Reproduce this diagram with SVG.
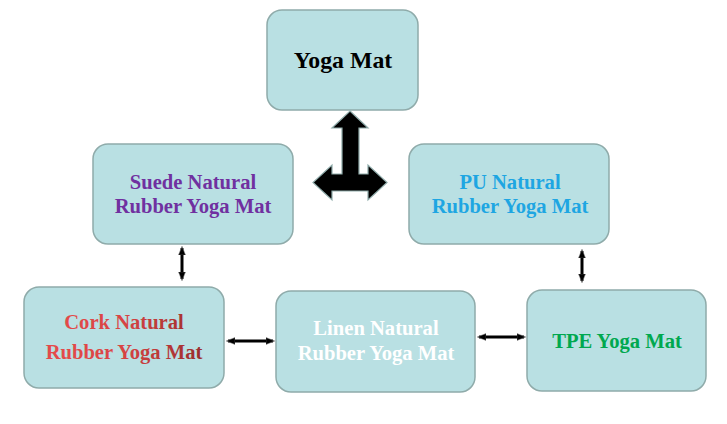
<svg xmlns="http://www.w3.org/2000/svg" width="727" height="424" viewBox="0 0 727 424">
<defs>
<style>
.box{fill:#b9e0e3;stroke:#8fabaa;stroke-width:1.5}
.t{font-family:"Liberation Serif","Times New Roman",serif;font-weight:bold;text-anchor:middle;font-size:20.6px}
.c{stroke:#000;stroke-width:3;fill:none;marker-start:url(#ah);marker-end:url(#ah)}
</style>
<marker id="ah" viewBox="0 0 10 10" refX="8" refY="5" markerWidth="3" markerHeight="3" orient="auto-start-reverse">
<path d="M0,1 L10,5 L0,9 Z" fill="#000" stroke="#888" stroke-width="0.6"/>
</marker>
<linearGradient id="cork" gradientUnits="userSpaceOnUse" x1="60" y1="0" x2="200" y2="0">
<stop offset="0" stop-color="#e44a4a"/>
<stop offset="0.45" stop-color="#d84444"/>
<stop offset="1" stop-color="#9c2e2e"/>
</linearGradient>
</defs>
<rect width="727" height="424" fill="#fff"/>
<g id="connectors">
<path d="M350,111 L368,128 L359,128 L359,174 L368,174 L368,165 L387,182.5 L368,200 L368,191 L332,191 L332,200 L313,182.5 L332,165 L332,174 L342,174 L342,128 L332,128 Z" fill="#000" stroke="#8fabaa" stroke-width="1.2"/>
<line class="c" x1="182" y1="248" x2="182" y2="279"/>
<line class="c" x1="582" y1="251" x2="582" y2="281"/>
<line class="c" x1="228" y1="341" x2="273" y2="341"/>
<line class="c" x1="479" y1="337" x2="524" y2="337"/>
</g>
<g id="yoga-mat">
<rect class="box" x="267" y="10" width="151" height="100" rx="15"/>
<text class="t" x="343" y="68" style="font-size:23.8px" fill="#000">Yoga Mat</text>
</g>
<g id="suede">
<rect class="box" x="93" y="144" width="200" height="100" rx="15"/>
<text class="t" x="193" y="189" fill="#7030a0">Suede Natural</text>
<text class="t" x="193" y="213" fill="#7030a0">Rubber Yoga Mat</text>
</g>
<g id="pu">
<rect class="box" x="409" y="144" width="200" height="100" rx="15"/>
<text class="t" x="510" y="189" fill="#1ea6e2">PU Natural</text>
<text class="t" x="510" y="213" fill="#1ea6e2">Rubber Yoga Mat</text>
</g>
<g id="cork">
<rect class="box" x="24" y="287" width="200" height="101" rx="15"/>
<text class="t" x="124" y="329" fill="url(#cork)">Cork Natural</text>
<text class="t" x="124" y="359" fill="url(#cork)">Rubber Yoga Mat</text>
</g>
<g id="linen">
<rect class="box" x="276" y="291" width="199" height="101" rx="15"/>
<text class="t" x="376" y="335" fill="#fff">Linen Natural</text>
<text class="t" x="376" y="360" fill="#fff">Rubber Yoga Mat</text>
</g>
<g id="tpe">
<rect class="box" x="527" y="290" width="179" height="101" rx="15"/>
<text class="t" x="617" y="348" fill="#00a84f">TPE Yoga Mat</text>
</g>
</svg>
